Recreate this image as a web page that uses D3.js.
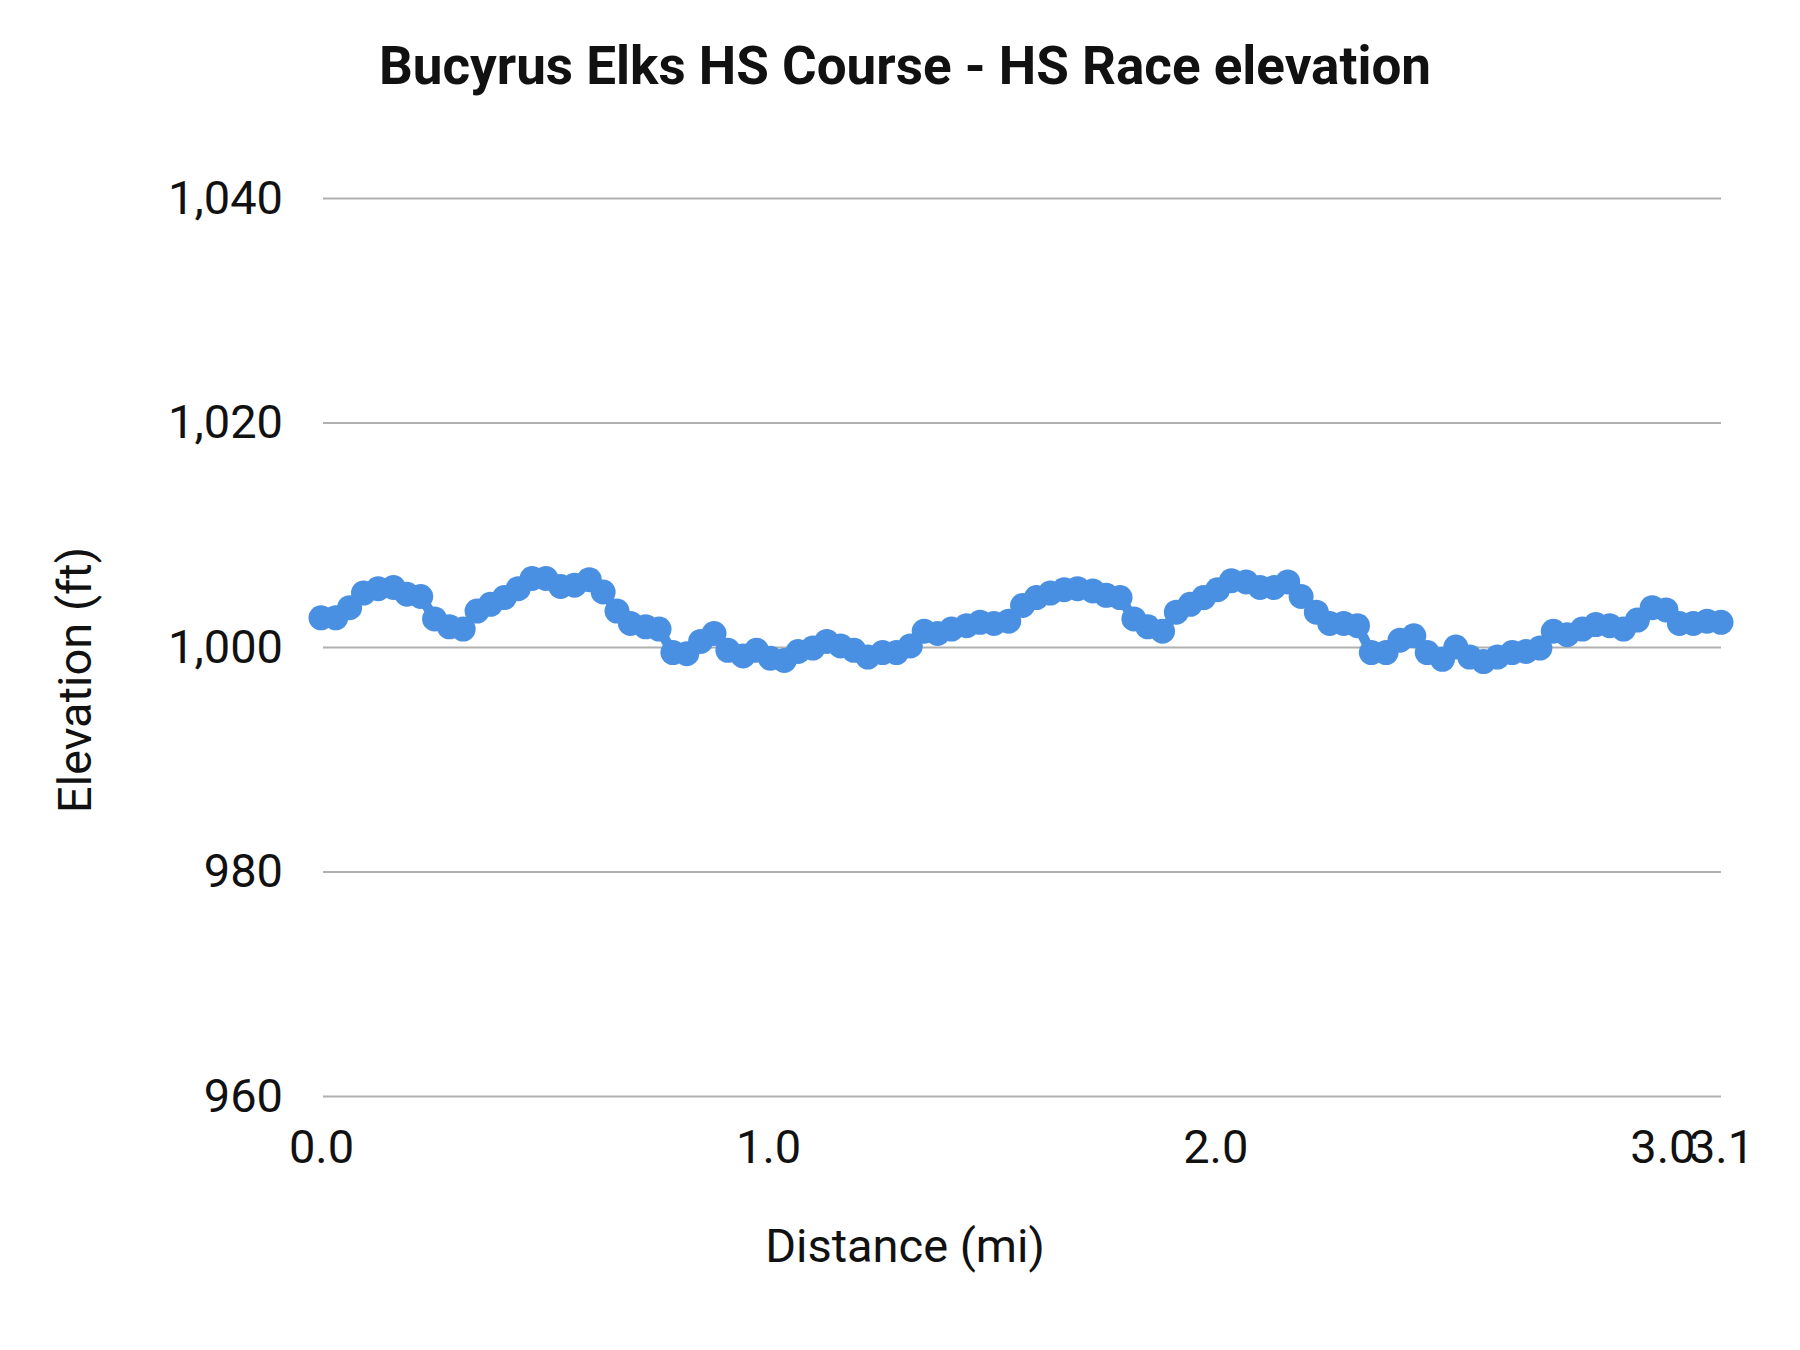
<!DOCTYPE html>
<html>
<head>
<meta charset="utf-8">
<script src="https://d3js.org/d3.v7.min.js"></script>
<style>
  body { margin: 0; background: #fff; }
  text { font-family: Roboto, sans-serif; }
</style>
</head>
<body>
<svg width="1800" height="1350"></svg>
<script>
// distance (mi) and elevation (ft)
const distance = [0.000, 0.033, 0.064, 0.095, 0.128, 0.162, 0.192, 0.223, 0.254, 0.287,
  0.318, 0.349, 0.379, 0.410, 0.441, 0.472, 0.503, 0.536, 0.567, 0.600,
  0.631, 0.662, 0.692, 0.726, 0.756, 0.787, 0.818, 0.849, 0.879, 0.910,
  0.944, 0.974, 1.005, 1.036, 1.067, 1.100, 1.131, 1.162, 1.192, 1.223,
  1.256, 1.287, 1.318, 1.349, 1.379, 1.410, 1.444, 1.474, 1.505, 1.538,
  1.569, 1.600, 1.631, 1.662, 1.692, 1.726, 1.756, 1.787, 1.818, 1.849,
  1.882, 1.913, 1.944, 1.974, 2.005, 2.036, 2.069, 2.100, 2.131, 2.162,
  2.192, 2.226, 2.256, 2.287, 2.318, 2.349, 2.382, 2.413, 2.444, 2.474,
  2.508, 2.538, 2.569, 2.600, 2.631, 2.664, 2.695, 2.726, 2.756, 2.787,
  2.821, 2.851, 2.882, 2.913, 2.944, 2.977, 3.008, 3.038, 3.069, 3.100, 3.131];
const elevation = [1002.6, 1002.6, 1003.5, 1004.8, 1005.2, 1005.3, 1004.7, 1004.5, 1002.5, 1001.8,
  1001.6, 1003.2, 1003.8, 1004.4, 1005.2, 1006.1, 1006.1, 1005.4, 1005.5, 1006.0,
  1004.9, 1003.2, 1002.1, 1001.8, 1001.6, 999.5, 999.4, 1000.5, 1001.2, 999.7,
  999.2, 999.7, 999.0, 998.8, 999.6, 999.9, 1000.5, 1000.1, 999.7, 999.1,
  999.5, 999.5, 1000.1, 1001.4, 1001.2, 1001.6, 1001.9, 1002.2, 1002.1, 1002.3,
  1003.7, 1004.4, 1004.8, 1005.1, 1005.2, 1005.0, 1004.6, 1004.4, 1002.5, 1001.8,
  1001.4, 1003.1, 1003.8, 1004.4, 1005.1, 1005.9, 1005.8, 1005.3, 1005.3, 1005.8,
  1004.5, 1003.1, 1002.1, 1002.1, 1001.9, 999.5, 999.5, 1000.6, 1001.0, 999.5,
  998.9, 1000.0, 999.1, 998.7, 999.1, 999.5, 999.6, 999.9, 1001.4, 1001.1,
  1001.6, 1002.0, 1001.9, 1001.6, 1002.4, 1003.5, 1003.3, 1002.1, 1002.1, 1002.3, 1002.2];
const yTicks = [960, 980, 1000, 1020, 1040];
const xTicks = [0, 1, 2, 3, 3.131];

const svg = d3.select("svg");
const x = d3.scaleLinear().domain([0, 3.131]).range([321, 1721]);
const y = d3.scaleLinear().domain([960, 1040]).range([1096, 198]);
const ink = "#111";

svg.append("text").attr("x", 905).attr("y", 84).attr("text-anchor", "middle")
  .attr("font-size", 53).attr("font-weight", "bold").attr("fill", ink)
  .text("Bucyrus Elks HS Course - HS Race elevation");

// gridlines + y labels
const yAxis = d3.axisLeft(y).tickValues(yTicks).tickSize(-(1731 - 323)).tickPadding(40)
  .tickFormat(d3.format(","));
const gy = svg.append("g").attr("transform", "translate(323,0)").call(yAxis);
gy.select(".domain").remove();
gy.selectAll("line").attr("x2", 1721 - 323).attr("stroke", "#b0b0b0").attr("stroke-width", 2);
gy.selectAll("text").attr("font-size", 47).attr("fill", ink).attr("font-family", "Roboto, sans-serif");

const xAxis = d3.axisBottom(x).tickValues(xTicks).tickSize(0).tickPadding(34)
  .tickFormat(d3.format(".1f"));
const gx = svg.append("g").attr("transform", "translate(0,1096)").call(xAxis);
gx.select(".domain").remove();
gx.selectAll("text").attr("font-size", 47).attr("fill", ink).attr("font-family", "Roboto, sans-serif");

svg.append("text").attr("x", 905).attr("y", 1262).attr("text-anchor", "middle")
  .attr("font-size", 47).attr("fill", ink).text("Distance (mi)");
svg.append("text").attr("transform", "translate(91,680) rotate(-90)").attr("text-anchor", "middle")
  .attr("font-size", 47).attr("fill", ink).text("Elevation (ft)");

const pts = distance.map((d, i) => [d, elevation[i]]);
const color = "#4a90e2";
svg.append("path").datum(pts)
  .attr("fill", "none").attr("stroke", color).attr("stroke-width", 10)
  .attr("stroke-linejoin", "round")
  .attr("d", d3.line().x(d => x(d[0])).y(d => y(d[1])));
svg.append("g").selectAll("circle").data(pts).join("circle")
  .attr("cx", d => x(d[0])).attr("cy", d => y(d[1])).attr("r", 12.5).attr("fill", color);
</script>
</body>
</html>
